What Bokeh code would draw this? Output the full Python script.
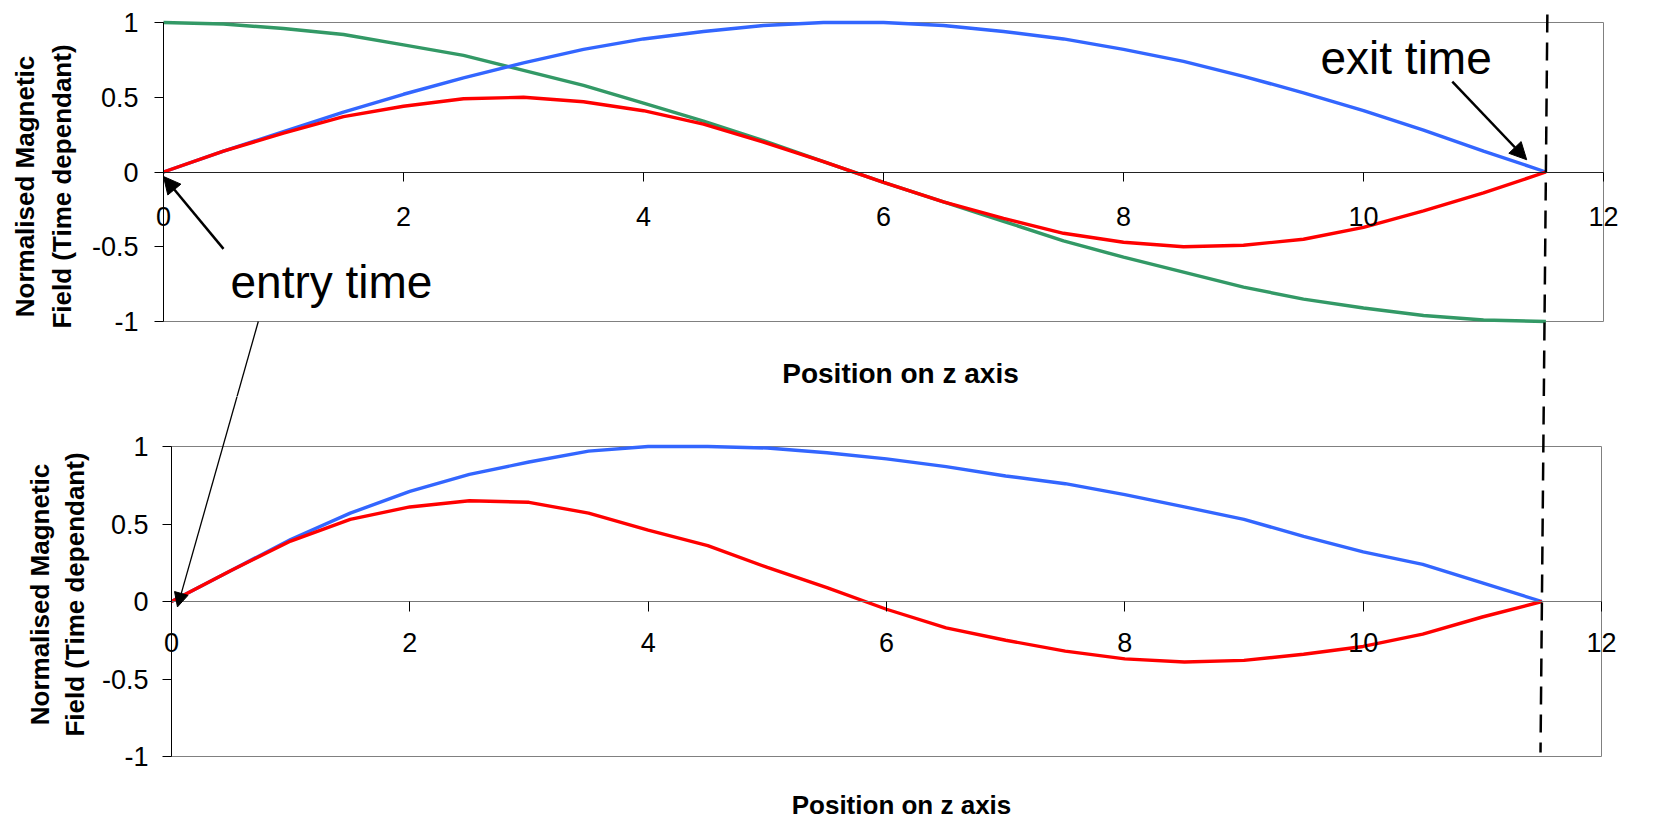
from bokeh.embed import file_html
from bokeh.layouts import column
from bokeh.models import (Arrow, BoxAnnotation, FixedTicker, Label, LinearAxis, NormalHead,
                          NumeralTickFormatter, Range1d)
from bokeh.plotting import figure
from bokeh.resources import INLINE

FONT = "Liberation Sans"

# ---- normalised field components against position on the z axis ----
z_upper = [0.0, 0.5, 1.0, 1.5, 2.0, 2.5, 3.0, 3.5, 4.0, 4.5, 5.0, 5.5,
           6.0, 6.5, 7.0, 7.5, 8.0, 8.5, 9.0, 9.5, 10.0, 10.5, 11.0, 11.52]
upper_blue = [0.00, 0.14, 0.27, 0.40, 0.52, 0.63, 0.73, 0.82, 0.89, 0.94, 0.98, 1.00,
              1.00, 0.98, 0.94, 0.89, 0.82, 0.74, 0.64, 0.53, 0.41, 0.28, 0.14, 0.00]
upper_green = [1.00, 0.99, 0.96, 0.92, 0.85, 0.78, 0.68, 0.58, 0.46, 0.34, 0.21, 0.07,
               -0.07, -0.20, -0.33, -0.46, -0.57, -0.67, -0.77, -0.85, -0.91, -0.96, -0.99, -1.00]
upper_red = [0.00, 0.14, 0.26, 0.37, 0.44, 0.49, 0.50, 0.47, 0.41, 0.32, 0.20, 0.07,
             -0.07, -0.20, -0.31, -0.41, -0.47, -0.50, -0.49, -0.45, -0.37, -0.26, -0.14, 0.00]

z_lower = [0.0, 0.5, 1.0, 1.5, 2.0, 2.5, 3.0, 3.5, 4.0, 4.5, 5.0, 5.5,
           6.0, 6.5, 7.0, 7.5, 8.0, 8.5, 9.0, 9.5, 10.0, 10.5, 11.0, 11.5]
lower_blue = [0.00, 0.20, 0.40, 0.57, 0.71, 0.82, 0.90, 0.97, 1.00, 1.00, 0.99, 0.96,
              0.92, 0.87, 0.81, 0.76, 0.69, 0.61, 0.53, 0.42, 0.32, 0.24, 0.12, 0.00]
lower_red = [0.00, 0.20, 0.39, 0.53, 0.61, 0.65, 0.64, 0.57, 0.46, 0.36, 0.22, 0.09,
             -0.05, -0.17, -0.25, -0.32, -0.37, -0.39, -0.38, -0.34, -0.29, -0.21, -0.10, 0.00]

x_ticks = [0, 2, 4, 6, 8, 10, 12]
y_ticks = [-1, -0.5, 0, 0.5, 1]
y_title_lines = ["Normalised Magnetic", "Field (Time dependant)"]
x_title = "Position on z axis"

BLUE, RED, GREEN = "#3366ff", "#ff0000", "#339966"
X_LIM = (0, 12)
Y_LIM = (-1, 1)

PAGE_W = 1655
PAGE_H = 819
SPLIT_Y = 396          # page row where the upper canvas ends


class Chart:
    """One chart: its plot-area box in page pixels and the canvas rows it owns."""

    def __init__(self, left, right, top, bottom, canvas_top, canvas_bottom):
        self.left, self.right, self.top, self.bottom = left, right, top, bottom
        self.canvas_top, self.canvas_bottom = canvas_top, canvas_bottom
        self.kx = (right - left) / (X_LIM[1] - X_LIM[0])
        self.ky = (bottom - top) / (Y_LIM[1] - Y_LIM[0])

    def x_range(self):
        return Range1d(X_LIM[0] - self.left / self.kx,
                       X_LIM[1] + (PAGE_W - self.right) / self.kx)

    def y_range(self):
        return Range1d(Y_LIM[0] - (self.canvas_bottom - self.bottom) / self.ky,
                       Y_LIM[1] + (self.top - self.canvas_top) / self.ky)

    def to_data(self, px, py):
        return (X_LIM[0] + (px - self.left) / self.kx,
                Y_LIM[1] - (py - self.top) / self.ky)

    def to_page(self, x, y):
        return (self.left + (x - X_LIM[0]) * self.kx,
                self.top + (Y_LIM[1] - y) * self.ky)


upper = Chart(163, 1603, 22, 321, 0, SPLIT_Y)
lower = Chart(171, 1601, 446, 756, SPLIT_Y, PAGE_H)


def make_chart(ch, zero_color, tick_out, tick_standoff, ytick_standoff):
    p = figure(width=PAGE_W, height=ch.canvas_bottom - ch.canvas_top,
               x_range=ch.x_range(), y_range=ch.y_range(),
               x_axis_location=None, y_axis_location=None,
               output_backend="svg", toolbar_location=None, min_border=0)
    p.grid.visible = False
    p.outline_line_color = None
    p.background_fill_color = "white"
    p.border_fill_color = "white"

    # plot-area border
    p.add_layout(BoxAnnotation(left=X_LIM[0], right=X_LIM[1], bottom=Y_LIM[0], top=Y_LIM[1],
                               fill_color=None, fill_alpha=0, line_color="#808080",
                               line_alpha=1, line_width=1, level="underlay"))

    # vertical axis at z = 0
    ya = LinearAxis(fixed_location=0, bounds=Y_LIM, ticker=FixedTicker(ticks=y_ticks),
                    formatter=NumeralTickFormatter(format="0.[0]"),
                    axis_line_color="black", major_tick_line_color="black",
                    major_tick_out=9, major_tick_in=0, minor_tick_line_color=None,
                    major_label_standoff=ytick_standoff, major_label_text_font=FONT,
                    major_label_text_font_size="27px", major_label_text_color="black")
    p.add_layout(ya, "left")

    # horizontal axis crossing at zero field
    xa = LinearAxis(fixed_location=0, bounds=X_LIM, ticker=FixedTicker(ticks=x_ticks),
                    axis_line_color=zero_color, axis_line_width=1,
                    major_tick_line_color="black", major_tick_out=tick_out,
                    major_tick_in=0, minor_tick_line_color=None,
                    major_label_standoff=tick_standoff,
                    major_label_text_font=FONT, major_label_text_font_size="27px",
                    major_label_text_color="black")
    p.add_layout(xa, "below")
    return p


def add_titles(p, ch, line_xs, title_cy, xtitle_cx, xtitle_cy, size):
    # vertical title, one label per line, read bottom to top
    for text, px in zip(y_title_lines, line_xs):
        x, y = ch.to_data(px, title_cy)
        p.add_layout(Label(x=x, y=y, text=text, angle=90, angle_units="deg",
                           text_align="center", text_baseline="middle",
                           text_font=FONT, text_font_size="26px",
                           text_font_style="bold", text_color="black"))
    x, y = ch.to_data(xtitle_cx, xtitle_cy)
    p.add_layout(Label(x=x, y=y, text=x_title, text_align="center",
                       text_baseline="middle", text_font=FONT,
                       text_font_size=f"{size}px", text_font_style="bold",
                       text_color="black"))


p1 = make_chart(upper, "#222222", 9, 26, 16)
p2 = make_chart(lower, "#777777", 10, 21, 14)
add_titles(p1, upper, (24, 61), 186, 900, 373, 28)
add_titles(p2, lower, (39, 74), 594, 901, 804, 26)

for xs, ys, color in ((z_upper, upper_green, GREEN), (z_upper, upper_blue, BLUE),
                      (z_upper, upper_red, RED)):
    p1.line(xs, ys, line_color=color, line_width=3.4)
for xs, ys, color in ((z_lower, lower_blue, BLUE), (z_lower, lower_red, RED)):
    p2.line(xs, ys, line_color=color, line_width=3.4)

# ---- callouts ----
ex, ey = upper.to_data(1320, 57)
p1.add_layout(Label(x=ex, y=ey, text="exit time", text_font=FONT,
                    text_font_size="46px", text_color="black", text_baseline="middle"))
nx, ny = upper.to_data(230, 281)
p1.add_layout(Label(x=nx, y=ny, text="entry time", text_font=FONT,
                    text_font_size="46px", text_color="black", text_baseline="middle"))

p1.add_layout(Arrow(end=NormalHead(size=17, fill_color="black", line_color="black"),
                    x_start=10.74, y_start=0.605, x_end=11.36, y_end=0.082,
                    line_color="black", line_width=2.5))
p1.add_layout(Arrow(end=NormalHead(size=17, fill_color="black", line_color="black"),
                    x_start=0.50, y_start=-0.514, x_end=0.0, y_end=-0.03,
                    line_color="black", line_width=2.5))

# thin pointer from the entry label down to the lower chart's origin
thin_start = upper.to_page(0.79, -1.0)
thin_tip = lower.to_page(0.05, -0.035)


def thin_x(py):
    return thin_start[0] + (py - thin_start[1]) * (thin_tip[0] - thin_start[0]) / (thin_tip[1] - thin_start[1])


a = upper.to_data(*thin_start)
b = upper.to_data(thin_x(SPLIT_Y + 6), SPLIT_Y + 6)
p1.line([a[0], b[0]], [a[1], b[1]], line_color="black", line_width=1.3)
c = lower.to_data(thin_x(SPLIT_Y - 6), SPLIT_Y - 6)
p2.add_layout(Arrow(end=NormalHead(size=14, fill_color="black", line_color="black"),
                    x_start=c[0], y_start=c[1], x_end=0.05, y_end=-0.035,
                    line_color="black", line_width=1.3))

# dashed guide through the exit point of both charts
gx0, gy0 = upper.to_page(z_upper[-1], 0)
gx1, gy1 = lower.to_page(z_lower[-1], 0)
GUIDE_TOP, GUIDE_BOTTOM = 14, 752
DASH, GAP = 18, 10


def guide_x(py):
    return gx0 + (py - gy0) * (gx1 - gx0) / (gy1 - gy0)


u0 = upper.to_data(guide_x(GUIDE_TOP), GUIDE_TOP)
u1 = upper.to_data(guide_x(SPLIT_Y + 4), SPLIT_Y + 4)
p1.line([u0[0], u1[0]], [u0[1], u1[1]], line_color="black", line_width=2.5,
        line_dash=f"{DASH} {GAP}")
l0 = lower.to_data(guide_x(SPLIT_Y), SPLIT_Y)
l1 = lower.to_data(guide_x(GUIDE_BOTTOM), GUIDE_BOTTOM)
p2.line([l0[0], l1[0]], [l0[1], l1[1]], line_color="black", line_width=2.5,
        line_dash=f"{DASH} {GAP}", line_dash_offset=(SPLIT_Y - GUIDE_TOP) % (DASH + GAP))

layout = column(p1, p2, spacing=0)
open("out.html", "w").write(file_html(layout, INLINE))
